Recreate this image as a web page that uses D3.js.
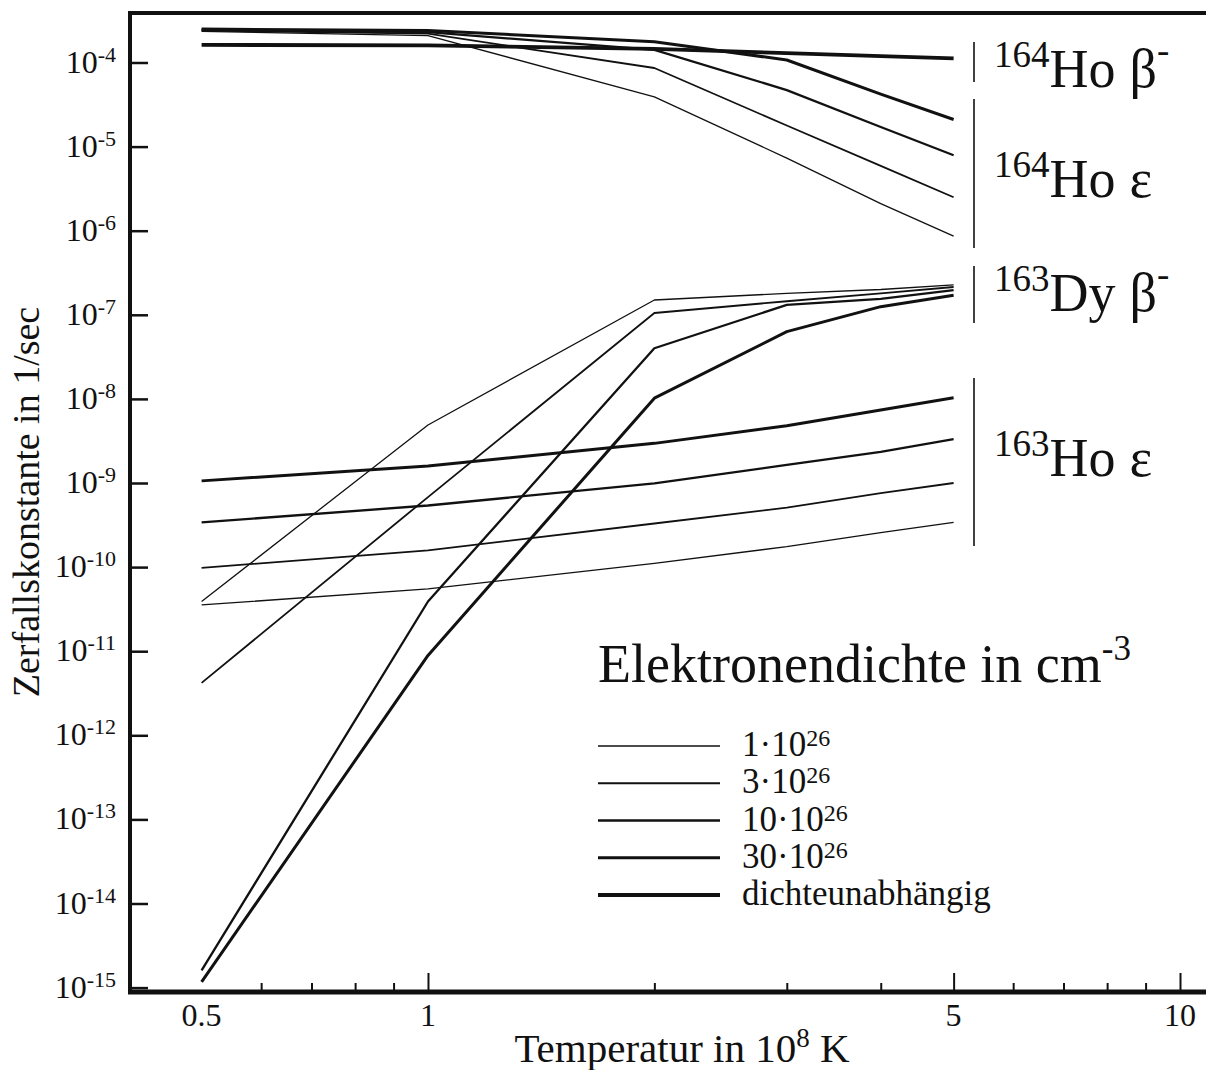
<!DOCTYPE html>
<html>
<head>
<meta charset="utf-8">
<script src="https://cdn.jsdelivr.net/npm/d3@7"></script>
<style>
  body { margin: 0; background: #fff; }
  text { font-family: 'Liberation Serif', 'DejaVu Serif', serif; fill: #111; }
</style>
</head>
<body>
<svg id="chart" width="1206" height="1070"></svg>
<script>
var temperatures = [0.5, 1, 2, 3, 4, 5]

// 164Ho beta- (density independent)
var ho164Beta = [1.62e-4, 1.60e-4, 1.45e-4, 1.29e-4, 1.19e-4, 1.12e-4]

// 164Ho electron capture, densities 1, 3, 10, 30 x 10^26
var ho164EpsD1 = [2.35e-4, 2.09e-4, 3.9e-5, 7.3e-6, 2.1e-6, 8.6e-7]
var ho164EpsD3 = [2.40e-4, 2.20e-4, 8.6e-5, 1.78e-5, 5.9e-6, 2.5e-6]
var ho164EpsD10 = [2.45e-4, 2.30e-4, 1.41e-4, 4.7e-5, 1.71e-5, 7.9e-6]
var ho164EpsD30 = [2.50e-4, 2.40e-4, 1.77e-4, 1.07e-4, 4.2e-5, 2.1e-5]

// 163Dy beta-
var dy163BetaD1 = [3.9e-11, 4.9e-9, 1.5e-7, 1.8e-7, 2.0e-7, 2.27e-7]
var dy163BetaD3 = [4.2e-12, 6.8e-10, 1.05e-7, 1.45e-7, 1.8e-7, 2.14e-7]
var dy163BetaD10 = [1.6e-15, 3.9e-11, 4.0e-8, 1.31e-7, 1.55e-7, 1.97e-7]
var dy163BetaD30 = [1.17e-15, 8.9e-12, 1.02e-8, 6.3e-8, 1.25e-7, 1.71e-7]

// 163Ho electron capture
var ho163EpsD1 = [3.55e-11, 5.5e-11, 1.11e-10, 1.75e-10, 2.57e-10, 3.4e-10]
var ho163EpsD3 = [9.8e-11, 1.58e-10, 3.3e-10, 5.1e-10, 7.6e-10, 1.0e-9]
var ho163EpsD10 = [3.4e-10, 5.4e-10, 9.9e-10, 1.64e-9, 2.35e-9, 3.33e-9]
var ho163EpsD30 = [1.06e-9, 1.59e-9, 2.96e-9, 4.8e-9, 7.4e-9, 1.03e-8]

var yExponents = [-4, -5, -6, -7, -8, -9, -10, -11, -12, -13, -14, -15]
var xLabelTicks = [0.5, 1, 5, 10]
var xMajorTicks = [1, 5, 10]
var xMinorTicks = [0.6, 0.7, 0.8, 0.9, 2, 3, 4, 6, 7, 8, 9]

var densityLabels = ['1·10', '3·10', '10·10', '30·10', 'dichteunabhängig']
var nuclideLabels = [['164', 'Ho', 'β', '-'], ['164', 'Ho', 'ε', ''], ['163', 'Dy', 'β', '-'], ['163', 'Ho', 'ε', '']]

var lineWidths = [1.3, 1.8, 2.3, 3, 3.8]

var svg = d3.select('#chart')

var x = d3.scaleLog().domain([0.5, 10]).range([201.6, 1180])
var y = d3.scaleLog().domain([1e-15, 1e-4]).range([987.6, 62.5])

const frame = { left: 130, right: 1206, top: 13, bottom: 992 }

var line = d3.line()
  .x(d => x(d[0]))
  .y(d => y(d[1]))

var byDensity = [
  [ho164EpsD1, dy163BetaD1, ho163EpsD1],
  [ho164EpsD3, dy163BetaD3, ho163EpsD3],
  [ho164EpsD10, dy163BetaD10, ho163EpsD10],
  [ho164EpsD30, dy163BetaD30, ho163EpsD30],
  [ho164Beta]
]

var curves = svg.append('g').attr('id', 'curves')
byDensity.forEach((group, i) => {
  group.forEach(values => {
    curves.append('path')
      .attr('d', line(values.map((v, j) => [temperatures[j], v])))
      .attr('fill', 'none')
      .attr('stroke', '#111')
      .attr('stroke-width', lineWidths[i])
      .attr('stroke-linejoin', 'round')
  })
})

// axes (inward ticks)
var yAxis = d3.axisLeft(y)
  .tickValues(yExponents.map(e => Math.pow(10, e)))
  .tickSize(-18)
  .tickFormat('')

svg.append('g')
  .attr('transform', 'translate(' + frame.left + ',0)')
  .call(yAxis)
  .call(g => g.select('.domain').remove())
  .selectAll('.tick line')
  .attr('stroke', '#111')
  .attr('stroke-width', 2.5)

var xMajor = d3.axisBottom(x).tickValues(xMajorTicks).tickSize(-19).tickFormat('')
var xMinor = d3.axisBottom(x).tickValues(xMinorTicks).tickSize(-9).tickFormat('')

;[xMajor, xMinor].forEach(ax => {
  svg.append('g')
    .attr('transform', 'translate(0,' + frame.bottom + ')')
    .call(ax)
    .call(g => g.select('.domain').remove())
    .selectAll('.tick line')
    .attr('stroke', '#111')
    .attr('stroke-width', 2)
})

// frame
svg.append('line')
  .attr('x1', frame.left).attr('y1', frame.top - 2)
  .attr('x2', frame.left).attr('y2', frame.bottom + 2)
  .attr('stroke', '#111').attr('stroke-width', 4)
svg.append('line')
  .attr('x1', frame.left - 2).attr('y1', frame.top)
  .attr('x2', frame.right).attr('y2', frame.top)
  .attr('stroke', '#111').attr('stroke-width', 4)
svg.append('line')
  .attr('x1', frame.left - 2).attr('y1', frame.bottom)
  .attr('x2', frame.right).attr('y2', frame.bottom)
  .attr('stroke', '#111').attr('stroke-width', 5)

// tick labels
yExponents.forEach(e => {
  var t = svg.append('text')
    .attr('x', 116)
    .attr('y', y(Math.pow(10, e)) + 10)
    .attr('text-anchor', 'end')
    .attr('font-size', 32)
  t.append('tspan').text('10')
  t.append('tspan').attr('font-size', 22).attr('dy', -11).text(e)
})

xLabelTicks.forEach(v => {
  svg.append('text')
    .attr('x', x(v))
    .attr('y', 1026)
    .attr('text-anchor', 'middle')
    .attr('font-size', 32)
    .text(v)
})

// axis titles
var xt = svg.append('text')
  .attr('x', 682)
  .attr('y', 1062)
  .attr('text-anchor', 'middle')
  .attr('font-size', 41)
xt.append('tspan').text('Temperatur in 10')
xt.append('tspan').attr('font-size', 27).attr('dy', -15).text('8')
xt.append('tspan').attr('dy', 15).text(' K')

svg.append('text')
  .attr('transform', 'translate(39,502) rotate(-90)')
  .attr('text-anchor', 'middle')
  .attr('font-size', 38)
  .text('Zerfallskonstante in 1/sec')

// nuclide labels on the right
var labelBars = [[42, 82], [99, 248], [266, 323], [378, 546]]
var labelBaselines = [87, 197, 311, 476]

nuclideLabels.forEach((d, i) => {
  svg.append('line')
    .attr('x1', 974).attr('y1', labelBars[i][0])
    .attr('x2', 974).attr('y2', labelBars[i][1])
    .attr('stroke', '#111').attr('stroke-width', 1.6)
  var t = svg.append('text')
    .attr('x', 994)
    .attr('y', labelBaselines[i])
    .attr('font-size', 54)
  t.append('tspan').attr('font-size', 37).attr('dy', -20).text(d[0])
  t.append('tspan').attr('dy', 20).text(d[1])
  t.append('tspan').attr('dx', 14).text(d[2])
  if (d[3]) t.append('tspan').attr('font-size', 37).attr('dy', -24).text(d[3])
})

// legend
var lt = svg.append('text')
  .attr('x', 598)
  .attr('y', 682)
  .attr('font-size', 54)
lt.append('tspan').text('Elektronendichte in cm')
lt.append('tspan').attr('font-size', 35).attr('dy', -22).text('-3')

var legendY = d3.scaleLinear().domain([0, 4]).range([746, 895])

densityLabels.forEach((label, i) => {
  svg.append('line')
    .attr('x1', 598).attr('y1', legendY(i))
    .attr('x2', 720).attr('y2', legendY(i))
    .attr('stroke', '#111')
    .attr('stroke-width', lineWidths[i])
  var t = svg.append('text')
    .attr('x', 742)
    .attr('y', legendY(i) + 10)
    .attr('font-size', 35)
  t.append('tspan').text(label)
  if (i < 4) t.append('tspan').attr('font-size', 24).attr('dy', -10).text('26')
})
</script>
</body>
</html>
